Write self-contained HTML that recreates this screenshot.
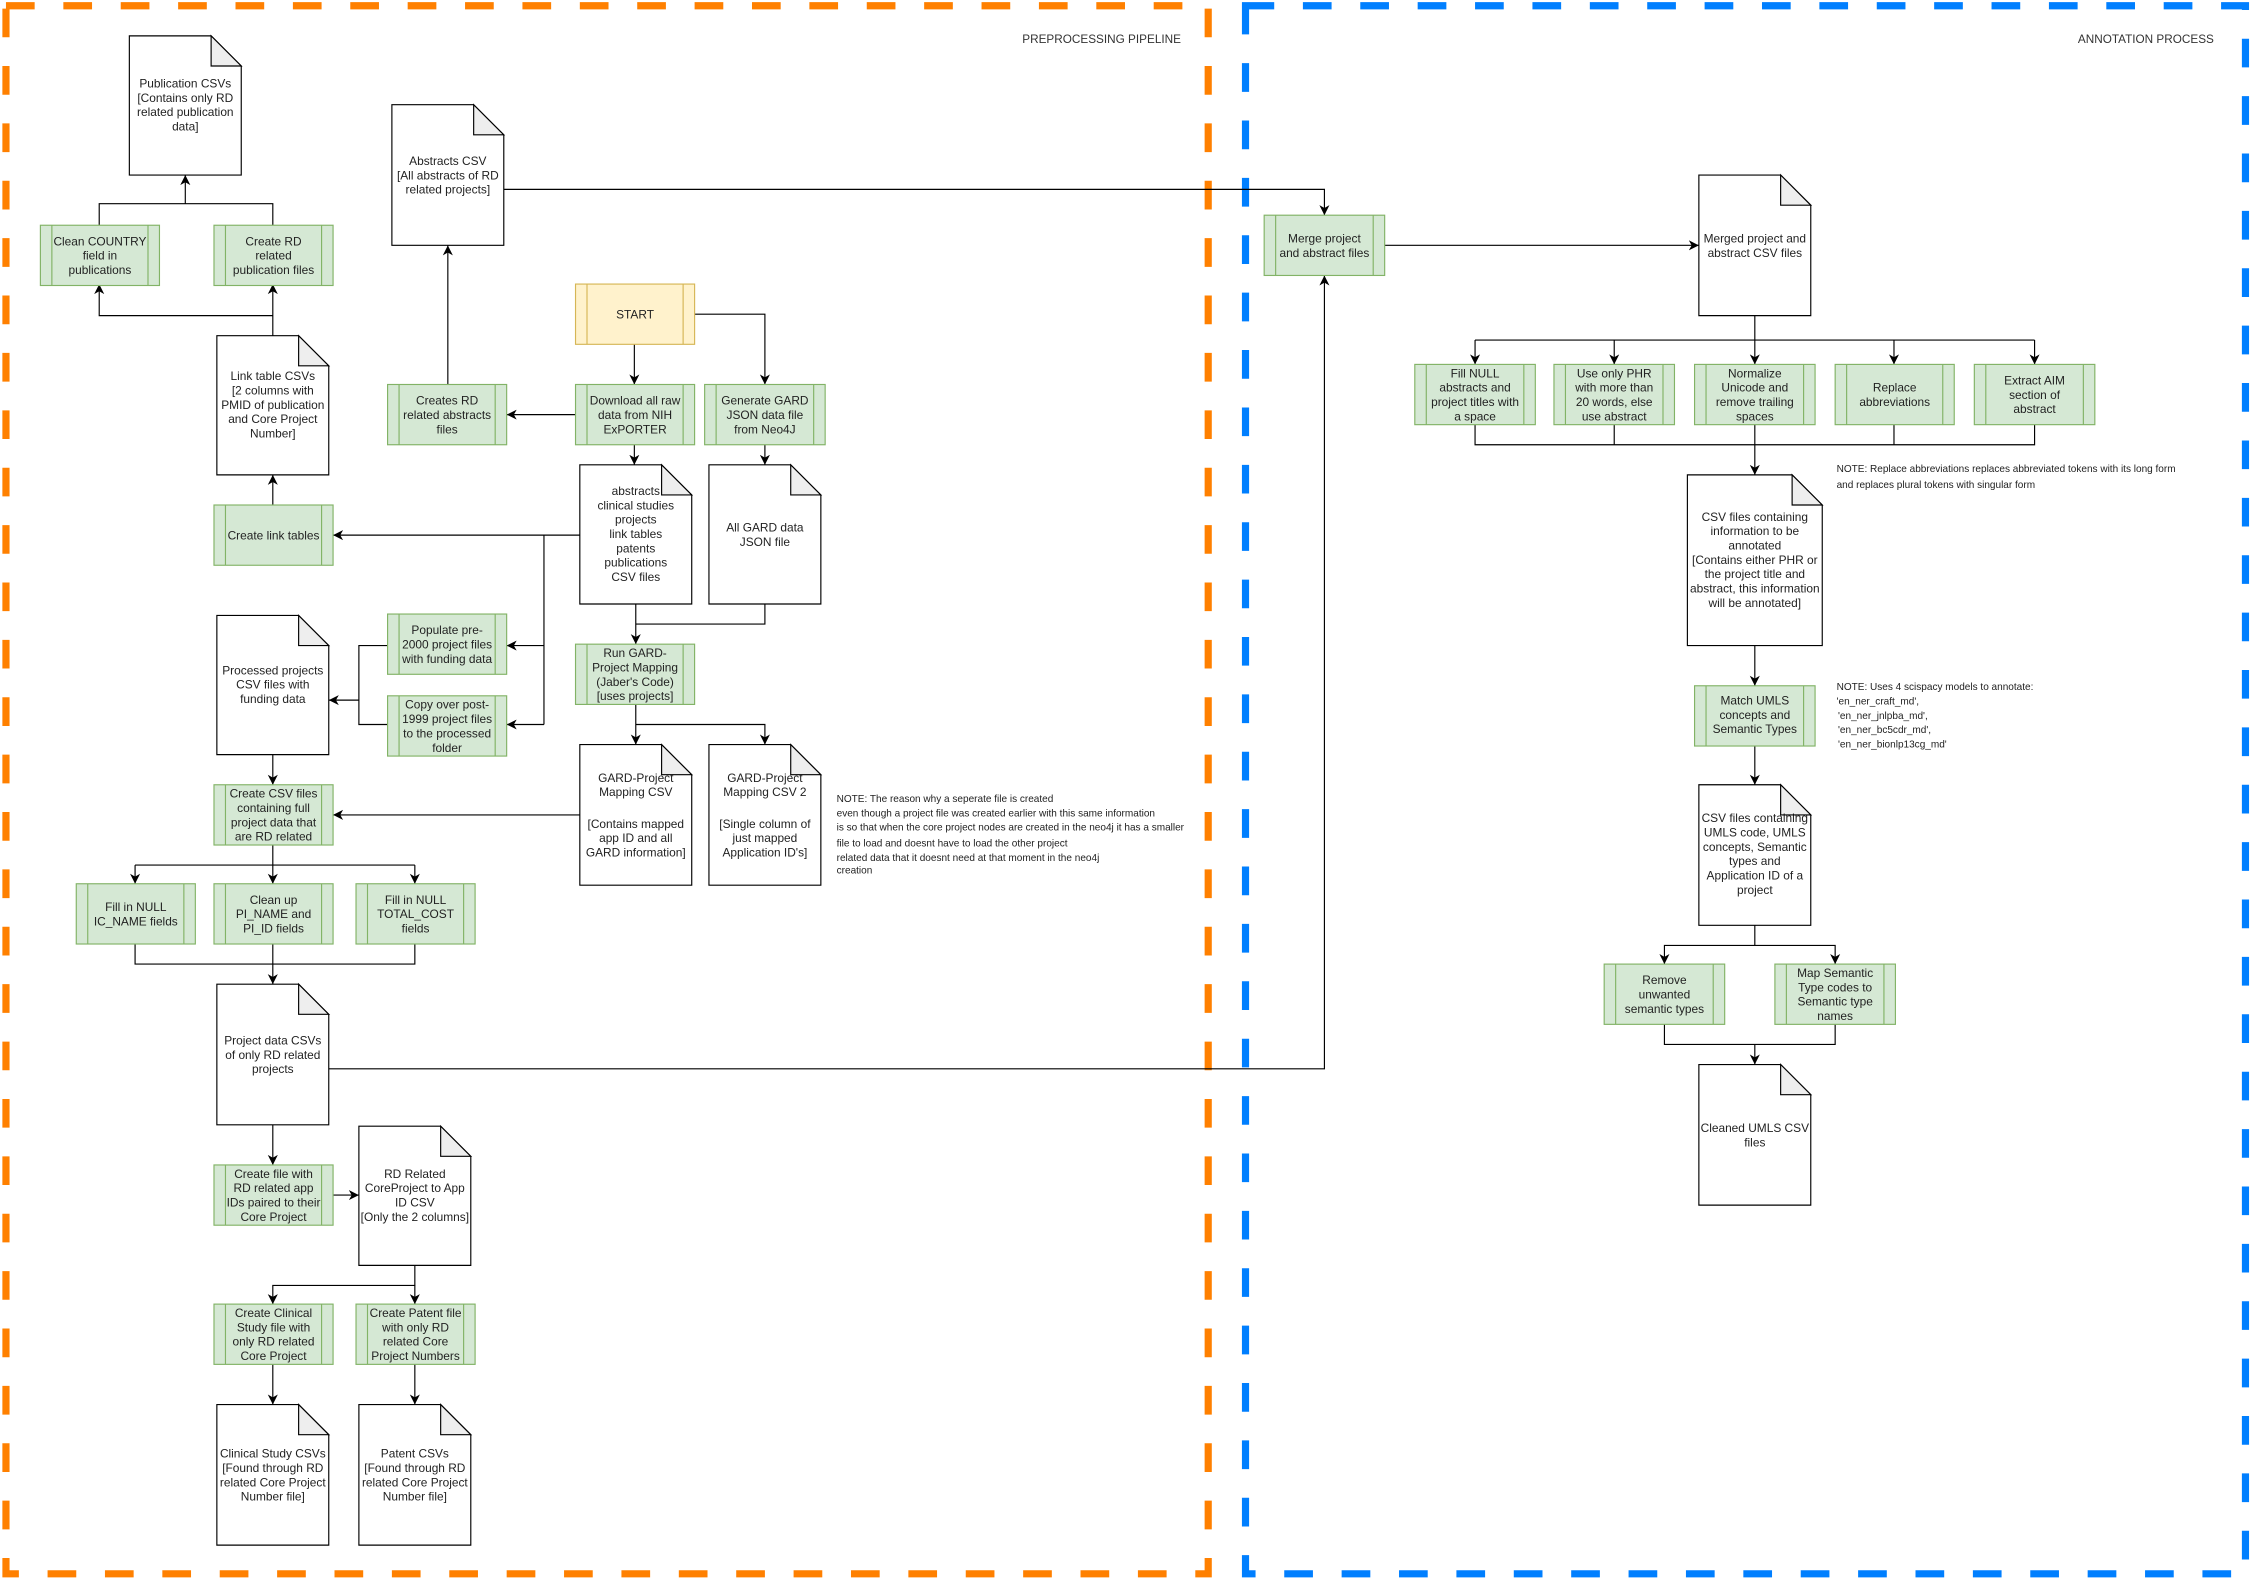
<!DOCTYPE html>
<html><head><meta charset="utf-8"><style>
html,body{margin:0;padding:0;background:#fff;}
svg{display:block;}
text{font-family:"Liberation Sans",sans-serif;font-size:8.3px;fill:#222;text-anchor:middle;}
.n{font-size:7px;text-anchor:start;}
.t{font-size:8.2px;text-anchor:end;fill:#333;}
.p{fill:#d5e8d4;stroke:#82b366;stroke-width:0.8;}
.pi{stroke:#82b366;stroke-width:0.8;}
.y{fill:#fff2cc;stroke:#d6b656;stroke-width:0.8;}
.yi{stroke:#d6b656;stroke-width:0.8;}
.d{fill:#fff;stroke:#000;stroke-width:0.8;}
.f{fill:#eee;stroke:#000;stroke-width:0.8;}
.c{fill:none;stroke:#000;stroke-width:0.8;}
</style></head><body>
<svg width="2250" height="1581" viewBox="0 0 1568 1102" xmlns="http://www.w3.org/2000/svg">
<defs>
<marker id="a" markerWidth="8" markerHeight="8" refX="7" refY="4" orient="auto" markerUnits="userSpaceOnUse">
<path d="M0,0.5 L7,4 L0,7.5 L2,4 z" fill="#000"/></marker>
</defs>
<rect x="0" y="0" width="1568" height="1102" fill="#fff"/>
<!-- containers -->
<rect x="4" y="4" width="838" height="1093" fill="none" stroke="#ff8000" stroke-width="5" stroke-dasharray="20 20"/>
<rect x="868" y="4" width="697" height="1093" fill="none" stroke="#007fff" stroke-width="5" stroke-dasharray="20 20"/>
<text class="t" x="823" y="30">PREPROCESSING PIPELINE</text>
<text class="t" x="1543" y="30">ANNOTATION PROCESS</text>

<!-- connectors -->
<path class="c" d="M69,157 V142 H190 V157"/>
<path class="c" d="M129,142 V122" marker-end="url(#a)"/>
<path class="c" d="M190,234 V198" marker-end="url(#a)"/>
<path class="c" d="M190,220 H69 V198" marker-end="url(#a)"/>
<path class="c" d="M190,352 V331" marker-end="url(#a)"/>
<path class="c" d="M404,373 H232" marker-end="url(#a)"/>
<path class="c" d="M379,373 V505"/>
<path class="c" d="M379,450 H353" marker-end="url(#a)"/>
<path class="c" d="M379,505 H353" marker-end="url(#a)"/>
<path class="c" d="M270,450 H250 V505 H270"/>
<path class="c" d="M250,488 H229" marker-end="url(#a)"/>
<path class="c" d="M190,526 V547" marker-end="url(#a)"/>
<path class="c" d="M404,568 H232" marker-end="url(#a)"/>
<path class="c" d="M190,589 V603 M94,603 H289"/>
<path class="c" d="M94,603 V616" marker-end="url(#a)"/>
<path class="c" d="M190,603 V616" marker-end="url(#a)"/>
<path class="c" d="M289,603 V616" marker-end="url(#a)"/>
<path class="c" d="M94,658 V672 H289 V658"/>
<path class="c" d="M190,658 V686" marker-end="url(#a)"/>
<path class="c" d="M229,745 H923 V192" marker-end="url(#a)"/>
<path class="c" d="M351,132 H923 V150" marker-end="url(#a)"/>
<path class="c" d="M190,784 V812" marker-end="url(#a)"/>
<path class="c" d="M232,833 H250" marker-end="url(#a)"/>
<path class="c" d="M289,882 V896 H190 V909" marker-end="url(#a)"/>
<path class="c" d="M289,896 V909" marker-end="url(#a)"/>
<path class="c" d="M190,951 V979" marker-end="url(#a)"/>
<path class="c" d="M289,951 V979" marker-end="url(#a)"/>
<path class="c" d="M442,240 V268" marker-end="url(#a)"/>
<path class="c" d="M484,219 H533 V268" marker-end="url(#a)"/>
<path class="c" d="M401,289 H353" marker-end="url(#a)"/>
<path class="c" d="M312,268 V171" marker-end="url(#a)"/>
<path class="c" d="M442,309 V324" marker-end="url(#a)"/>
<path class="c" d="M533,309 V324" marker-end="url(#a)"/>
<path class="c" d="M443,421 V449" marker-end="url(#a)"/>
<path class="c" d="M533,421 V435 H443"/>
<path class="c" d="M443,491 V519" marker-end="url(#a)"/>
<path class="c" d="M443,505 H533 V519" marker-end="url(#a)"/>
<!-- right connectors -->
<path class="c" d="M965,171 H1184" marker-end="url(#a)"/>
<path class="c" d="M1223,220 V237 M1028,237 H1418"/>
<path class="c" d="M1028,237 V254" marker-end="url(#a)"/>
<path class="c" d="M1125,237 V254" marker-end="url(#a)"/>
<path class="c" d="M1223,237 V254" marker-end="url(#a)"/>
<path class="c" d="M1320,237 V254" marker-end="url(#a)"/>
<path class="c" d="M1418,237 V254" marker-end="url(#a)"/>
<path class="c" d="M1028,296 V310 H1418 V296 M1125,296 V310 M1320,296 V310"/>
<path class="c" d="M1223,296 V331" marker-end="url(#a)"/>
<path class="c" d="M1223,450 V478" marker-end="url(#a)"/>
<path class="c" d="M1223,520 V547" marker-end="url(#a)"/>
<path class="c" d="M1223,645 V659 H1160 V672" marker-end="url(#a)"/>
<path class="c" d="M1223,659 H1279 V672" marker-end="url(#a)"/>
<path class="c" d="M1160,714 V728 H1279 V714"/>
<path class="c" d="M1223,728 V742" marker-end="url(#a)"/>

<!-- documents -->
<g>
<path class="d" d="M90,25 H147 L168,46 V122 H90 Z"/><path class="f" d="M147,25 V46 H168 Z"/>
<text><tspan x="129" y="61">Publication CSVs</tspan><tspan x="129" y="71">[Contains only RD</tspan><tspan x="129" y="81">related publication</tspan><tspan x="129" y="91">data]</tspan></text>

<path class="d" d="M151,234 H208 L229,255 V331 H151 Z"/><path class="f" d="M208,234 V255 H229 Z"/>
<text><tspan x="190" y="265">Link table CSVs</tspan><tspan x="190" y="275">[2 columns with</tspan><tspan x="190" y="285">PMID of publication</tspan><tspan x="190" y="295">and Core Project</tspan><tspan x="190" y="305">Number]</tspan></text>

<path class="d" d="M273,73 H330 L351,94 V171 H273 Z"/><path class="f" d="M330,73 V94 H351 Z"/>
<text><tspan x="312" y="115">Abstracts CSV</tspan><tspan x="312" y="125">[All abstracts of RD</tspan><tspan x="312" y="135">related projects]</tspan></text>

<path class="d" d="M404,324 H461 L482,345 V421 H404 Z"/><path class="f" d="M461,324 V345 H482 Z"/>
<text><tspan x="443" y="345">abstracts</tspan><tspan x="443" y="355">clinical studies</tspan><tspan x="443" y="365">projects</tspan><tspan x="443" y="375">link tables</tspan><tspan x="443" y="385">patents</tspan><tspan x="443" y="395">publications</tspan><tspan x="443" y="405">CSV files</tspan></text>

<path class="d" d="M494,324 H551 L572,345 V421 H494 Z"/><path class="f" d="M551,324 V345 H572 Z"/>
<text><tspan x="533" y="370.5">All GARD data</tspan><tspan x="533" y="380.5">JSON file</tspan></text>

<path class="d" d="M404,519 H461 L482,540 V617 H404 Z"/><path class="f" d="M461,519 V540 H482 Z"/>
<text><tspan x="443" y="545">GARD-Project</tspan><tspan x="443" y="555">Mapping CSV</tspan><tspan x="443" y="577">[Contains mapped</tspan><tspan x="443" y="587">app ID and all</tspan><tspan x="443" y="597">GARD information]</tspan></text>

<path class="d" d="M494,519 H551 L572,540 V617 H494 Z"/><path class="f" d="M551,519 V540 H572 Z"/>
<text><tspan x="533" y="545">GARD-Project</tspan><tspan x="533" y="555">Mapping CSV 2</tspan><tspan x="533" y="577">[Single column of</tspan><tspan x="533" y="587">just mapped</tspan><tspan x="533" y="597">Application ID's]</tspan></text>

<path class="d" d="M151,429 H208 L229,450 V526 H151 Z"/><path class="f" d="M208,429 V450 H229 Z"/>
<text><tspan x="190" y="470">Processed projects</tspan><tspan x="190" y="480">CSV files with</tspan><tspan x="190" y="490">funding data</tspan></text>

<path class="d" d="M151,686 H208 L229,707 V784 H151 Z"/><path class="f" d="M208,686 V707 H229 Z"/>
<text><tspan x="190" y="728">Project data CSVs</tspan><tspan x="190" y="738">of only RD related</tspan><tspan x="190" y="748">projects</tspan></text>

<path class="d" d="M250,785 H307 L328,806 V882 H250 Z"/><path class="f" d="M307,785 V806 H328 Z"/>
<text><tspan x="289" y="821">RD Related</tspan><tspan x="289" y="831">CoreProject to App</tspan><tspan x="289" y="841">ID CSV</tspan><tspan x="289" y="851">[Only the 2 columns]</tspan></text>

<path class="d" d="M151,979 H208 L229,1000 V1077 H151 Z"/><path class="f" d="M208,979 V1000 H229 Z"/>
<text><tspan x="190" y="1016">Clinical Study CSVs</tspan><tspan x="190" y="1026">[Found through RD</tspan><tspan x="190" y="1036">related Core Project</tspan><tspan x="190" y="1046">Number file]</tspan></text>

<path class="d" d="M250,979 H307 L328,1000 V1077 H250 Z"/><path class="f" d="M307,979 V1000 H328 Z"/>
<text><tspan x="289" y="1016">Patent CSVs</tspan><tspan x="289" y="1026">[Found through RD</tspan><tspan x="289" y="1036">related Core Project</tspan><tspan x="289" y="1046">Number file]</tspan></text>

<path class="d" d="M1184,122 H1241 L1262,143 V220 H1184 Z"/><path class="f" d="M1241,122 V143 H1262 Z"/>
<text><tspan x="1223" y="169">Merged project and</tspan><tspan x="1223" y="179">abstract CSV files</tspan></text>

<path class="d" d="M1176,331 H1249 L1270,352 V450 H1176 Z"/><path class="f" d="M1249,331 V352 H1270 Z"/>
<text><tspan x="1223" y="363">CSV files containing</tspan><tspan x="1223" y="373">information to be</tspan><tspan x="1223" y="383">annotated</tspan><tspan x="1223" y="393">[Contains either PHR or</tspan><tspan x="1223" y="403">the project title and</tspan><tspan x="1223" y="413">abstract, this information</tspan><tspan x="1223" y="423">will be annotated]</tspan></text>

<path class="d" d="M1184,547 H1241 L1262,568 V645 H1184 Z"/><path class="f" d="M1241,547 V568 H1262 Z"/>
<text><tspan x="1223" y="573">CSV files containing</tspan><tspan x="1223" y="583">UMLS code, UMLS</tspan><tspan x="1223" y="593">concepts, Semantic</tspan><tspan x="1223" y="603">types and</tspan><tspan x="1223" y="613">Application ID of a</tspan><tspan x="1223" y="623">project</tspan></text>

<path class="d" d="M1184,742 H1241 L1262,763 V840 H1184 Z"/><path class="f" d="M1241,742 V763 H1262 Z"/>
<text><tspan x="1223" y="789">Cleaned UMLS CSV</tspan><tspan x="1223" y="799">files</tspan></text>
</g>

<!-- process boxes -->
<g>
<rect class="y" x="401" y="198" width="83" height="42"/><path class="yi" d="M409,198 V240 M476,198 V240"/>
<text x="442.5" y="222">START</text>

<rect class="p" x="28" y="157" width="83" height="42"/><path class="pi" d="M36,157 V199 M103,157 V199"/>
<text><tspan x="69.5" y="171">Clean COUNTRY</tspan><tspan x="69.5" y="181">field in</tspan><tspan x="69.5" y="191">publications</tspan></text>

<rect class="p" x="149" y="157" width="83" height="42"/><path class="pi" d="M157,157 V199 M224,157 V199"/>
<text><tspan x="190.5" y="171">Create RD</tspan><tspan x="190.5" y="181">related</tspan><tspan x="190.5" y="191">publication files</tspan></text>

<rect class="p" x="149" y="352" width="83" height="42"/><path class="pi" d="M157,352 V394 M224,352 V394"/>
<text x="190.5" y="376">Create link tables</text>

<rect class="p" x="270" y="268" width="83" height="42"/><path class="pi" d="M278,268 V310 M345,268 V310"/>
<text><tspan x="311.5" y="282">Creates RD</tspan><tspan x="311.5" y="292">related abstracts</tspan><tspan x="311.5" y="302">files</tspan></text>

<rect class="p" x="401" y="268" width="83" height="42"/><path class="pi" d="M409,268 V310 M476,268 V310"/>
<text><tspan x="442.5" y="282">Download all raw</tspan><tspan x="442.5" y="292">data from NIH</tspan><tspan x="442.5" y="302">ExPORTER</tspan></text>

<rect class="p" x="491" y="268" width="84" height="42"/><path class="pi" d="M499,268 V310 M567,268 V310"/>
<text><tspan x="533" y="282">Generate GARD</tspan><tspan x="533" y="292">JSON data file</tspan><tspan x="533" y="302">from Neo4J</tspan></text>

<rect class="p" x="401" y="449" width="83" height="42"/><path class="pi" d="M409,449 V491 M476,449 V491"/>
<text><tspan x="442.5" y="458">Run GARD-</tspan><tspan x="442.5" y="468">Project Mapping</tspan><tspan x="442.5" y="478">(Jaber's Code)</tspan><tspan x="442.5" y="488">[uses projects]</tspan></text>

<rect class="p" x="270" y="428" width="83" height="42"/><path class="pi" d="M278,428 V470 M345,428 V470"/>
<text><tspan x="311.5" y="442">Populate pre-</tspan><tspan x="311.5" y="452">2000 project files</tspan><tspan x="311.5" y="462">with funding data</tspan></text>

<rect class="p" x="270" y="485" width="83" height="42"/><path class="pi" d="M278,485 V527 M345,485 V527"/>
<text><tspan x="311.5" y="494">Copy over post-</tspan><tspan x="311.5" y="504">1999 project files</tspan><tspan x="311.5" y="514">to the processed</tspan><tspan x="311.5" y="524">folder</tspan></text>

<rect class="p" x="149" y="547" width="83" height="42"/><path class="pi" d="M157,547 V589 M224,547 V589"/>
<text><tspan x="190.5" y="556">Create CSV files</tspan><tspan x="190.5" y="566">containing full</tspan><tspan x="190.5" y="576">project data that</tspan><tspan x="190.5" y="586">are RD related</tspan></text>

<rect class="p" x="53" y="616" width="83" height="42"/><path class="pi" d="M61,616 V658 M128,616 V658"/>
<text><tspan x="94.5" y="635">Fill in NULL</tspan><tspan x="94.5" y="645">IC_NAME fields</tspan></text>

<rect class="p" x="149" y="616" width="83" height="42"/><path class="pi" d="M157,616 V658 M224,616 V658"/>
<text><tspan x="190.5" y="630">Clean up</tspan><tspan x="190.5" y="640">PI_NAME and</tspan><tspan x="190.5" y="650">PI_ID fields</tspan></text>

<rect class="p" x="248" y="616" width="83" height="42"/><path class="pi" d="M256,616 V658 M323,616 V658"/>
<text><tspan x="289.5" y="630">Fill in NULL</tspan><tspan x="289.5" y="640">TOTAL_COST</tspan><tspan x="289.5" y="650">fields</tspan></text>

<rect class="p" x="149" y="812" width="83" height="42"/><path class="pi" d="M157,812 V854 M224,812 V854"/>
<text><tspan x="190.5" y="821">Create file with</tspan><tspan x="190.5" y="831">RD related app</tspan><tspan x="190.5" y="841">IDs paired to their</tspan><tspan x="190.5" y="851">Core Project</tspan></text>

<rect class="p" x="149" y="909" width="83" height="42"/><path class="pi" d="M157,909 V951 M224,909 V951"/>
<text><tspan x="190.5" y="918">Create Clinical</tspan><tspan x="190.5" y="928">Study file with</tspan><tspan x="190.5" y="938">only RD related</tspan><tspan x="190.5" y="948">Core Project</tspan></text>

<rect class="p" x="248" y="909" width="83" height="42"/><path class="pi" d="M256,909 V951 M323,909 V951"/>
<text><tspan x="289.5" y="918">Create Patent file</tspan><tspan x="289.5" y="928">with only RD</tspan><tspan x="289.5" y="938">related Core</tspan><tspan x="289.5" y="948">Project Numbers</tspan></text>

<rect class="p" x="881" y="150" width="84" height="42"/><path class="pi" d="M889,150 V192 M957,150 V192"/>
<text><tspan x="923" y="169">Merge project</tspan><tspan x="923" y="179">and abstract files</tspan></text>

<rect class="p" x="986" y="254" width="84" height="42"/><path class="pi" d="M994,254 V296 M1062,254 V296"/>
<text><tspan x="1028" y="263">Fill NULL</tspan><tspan x="1028" y="273">abstracts and</tspan><tspan x="1028" y="283">project titles with</tspan><tspan x="1028" y="293">a space</tspan></text>

<rect class="p" x="1083" y="254" width="84" height="42"/><path class="pi" d="M1091,254 V296 M1159,254 V296"/>
<text><tspan x="1125" y="263">Use only PHR</tspan><tspan x="1125" y="273">with more than</tspan><tspan x="1125" y="283">20 words, else</tspan><tspan x="1125" y="293">use abstract</tspan></text>

<rect class="p" x="1181" y="254" width="84" height="42"/><path class="pi" d="M1189,254 V296 M1257,254 V296"/>
<text><tspan x="1223" y="263">Normalize</tspan><tspan x="1223" y="273">Unicode and</tspan><tspan x="1223" y="283">remove trailing</tspan><tspan x="1223" y="293">spaces</tspan></text>

<rect class="p" x="1279" y="254" width="83" height="42"/><path class="pi" d="M1287,254 V296 M1354,254 V296"/>
<text><tspan x="1320.5" y="273">Replace</tspan><tspan x="1320.5" y="283">abbreviations</tspan></text>

<rect class="p" x="1376" y="254" width="84" height="42"/><path class="pi" d="M1384,254 V296 M1452,254 V296"/>
<text><tspan x="1418" y="268">Extract AIM</tspan><tspan x="1418" y="278">section of</tspan><tspan x="1418" y="288">abstract</tspan></text>

<rect class="p" x="1181" y="478" width="84" height="42"/><path class="pi" d="M1189,478 V520 M1257,478 V520"/>
<text><tspan x="1223" y="491">Match UMLS</tspan><tspan x="1223" y="501">concepts and</tspan><tspan x="1223" y="511">Semantic Types</tspan></text>

<rect class="p" x="1118" y="672" width="84" height="42"/><path class="pi" d="M1126,672 V714 M1194,672 V714"/>
<text><tspan x="1160" y="686">Remove</tspan><tspan x="1160" y="696">unwanted</tspan><tspan x="1160" y="706">semantic types</tspan></text>

<rect class="p" x="1237" y="672" width="84" height="42"/><path class="pi" d="M1245,672 V714 M1313,672 V714"/>
<text><tspan x="1279" y="681">Map Semantic</tspan><tspan x="1279" y="691">Type codes to</tspan><tspan x="1279" y="701">Semantic type</tspan><tspan x="1279" y="711">names</tspan></text>
</g>

<!-- notes -->
<text class="n"><tspan x="583" y="559">NOTE: The reason why a seperate file is created</tspan><tspan x="583" y="569">even though a project file was created earlier with this same information</tspan><tspan x="583" y="579">is so that when the core project nodes are created in the neo4j it has a smaller</tspan><tspan x="583" y="590">file to load and doesnt have to load the other project</tspan><tspan x="583" y="600">related data that it doesnt need at that moment in the neo4j</tspan><tspan x="583" y="609">creation</tspan></text>
<text class="n"><tspan x="1280" y="329">NOTE: Replace abbreviations replaces abbreviated tokens with its long form</tspan><tspan x="1280" y="340">and replaces plural tokens with singular form</tspan></text>
<text class="n"><tspan x="1280" y="481">NOTE: Uses 4 scispacy models to annotate:</tspan><tspan x="1280" y="491">'en_ner_craft_md',</tspan><tspan x="1281" y="501">'en_ner_jnlpba_md',</tspan><tspan x="1281" y="511">'en_ner_bc5cdr_md',</tspan><tspan x="1281" y="521">'en_ner_bionlp13cg_md'</tspan></text>
</svg>
</body></html>
